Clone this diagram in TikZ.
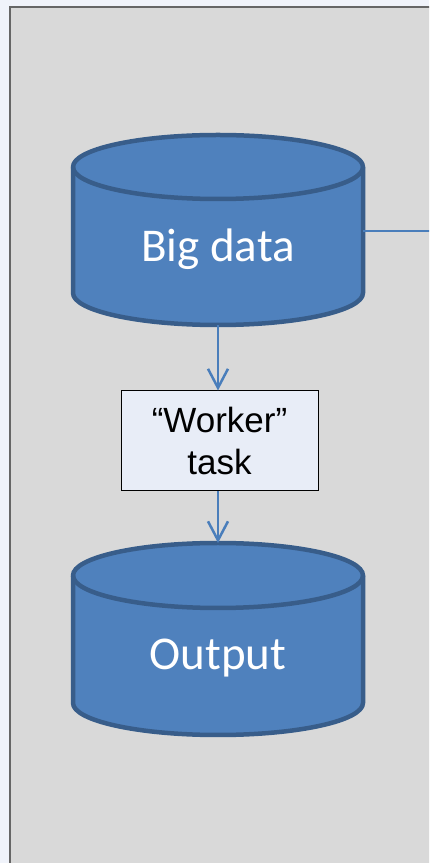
\documentclass[tikz,border=0pt]{standalone}
\usepackage{fontspec}
\setmainfont{Liberation Sans}
\newfontfamily\calfont{Carlito}
\usetikzlibrary{arrows.meta}
\definecolor{bgblue}{HTML}{F0F3FA}
\definecolor{panelgray}{HTML}{D9D9D9}
\definecolor{panelline}{HTML}{666666}
\definecolor{cylfill}{HTML}{4F81BD}
\definecolor{cylline}{HTML}{385D8A}
\definecolor{linkblue}{HTML}{4A7EBB}
\definecolor{boxfill}{HTML}{E8EDF7}
\tikzset{
  cylshape/.style={fill=cylfill, draw=cylline, line width=4.5pt, line join=round},
  cyllabel/.style={text=white, font=\calfont\fontsize{47}{56}\selectfont, anchor=base, inner sep=0pt},
  taskbox/.style={draw=black, line width=1pt, fill=boxfill, minimum width=197pt, minimum height=100pt, inner sep=0pt, align=center, font=\fontsize{35}{42}\selectfont},
  link/.style={draw=linkblue, line width=2.5pt},
  flow/.style={link, -{Straight Barb[length=19pt,width=20pt,line width=2.5pt]}}
}
\begin{document}
\begin{tikzpicture}[x=1pt,y=1pt]
\useasboundingbox (0,0) rectangle (429,863);
\clip (0,0) rectangle (429,863);
\fill[bgblue] (0,0) rectangle (429,863);
% panel
\fill[panelgray] (10,-5) rectangle (445,856);
\draw[panelline, line width=2pt] (10,-5) -- (10,856) -- (445,856);
% cylinder Big data
\path[cylshape] (73,696) -- (73,570) arc[start angle=180,end angle=360,x radius=145,y radius=32] -- (363,696) arc[start angle=0,end angle=180,x radius=145,y radius=32] -- cycle;
\draw[cylshape, fill=none] (73,696) arc[start angle=180,end angle=360,x radius=145,y radius=32];
\node[cyllabel] (big) at (218,601) {Big data};
\coordinate (bigbot) at (218,538);
\coordinate (bigright) at (363,632);
\coordinate (offright) at (440,632);
% cylinder Output
\path[cylshape] (73,287.5) -- (73,160) arc[start angle=180,end angle=360,x radius=145,y radius=32] -- (363,287.5) arc[start angle=0,end angle=180,x radius=145,y radius=32.5] -- cycle;
\draw[cylshape, fill=none] (73,287.5) arc[start angle=180,end angle=360,x radius=145,y radius=32.5];
\node[cyllabel] (out) at (218,193) {Output};
\coordinate (outtop) at (218,320);
% worker box
\node[taskbox] (worker) at (219.5,422) {“Worker”\\task};
% connectors
\draw[link] (bigright) -- (offright);
\draw[flow] (bigbot) -- (bigbot |- worker.north);
\draw[flow] (bigbot |- worker.south) -- (outtop);
\end{tikzpicture}
\end{document}
